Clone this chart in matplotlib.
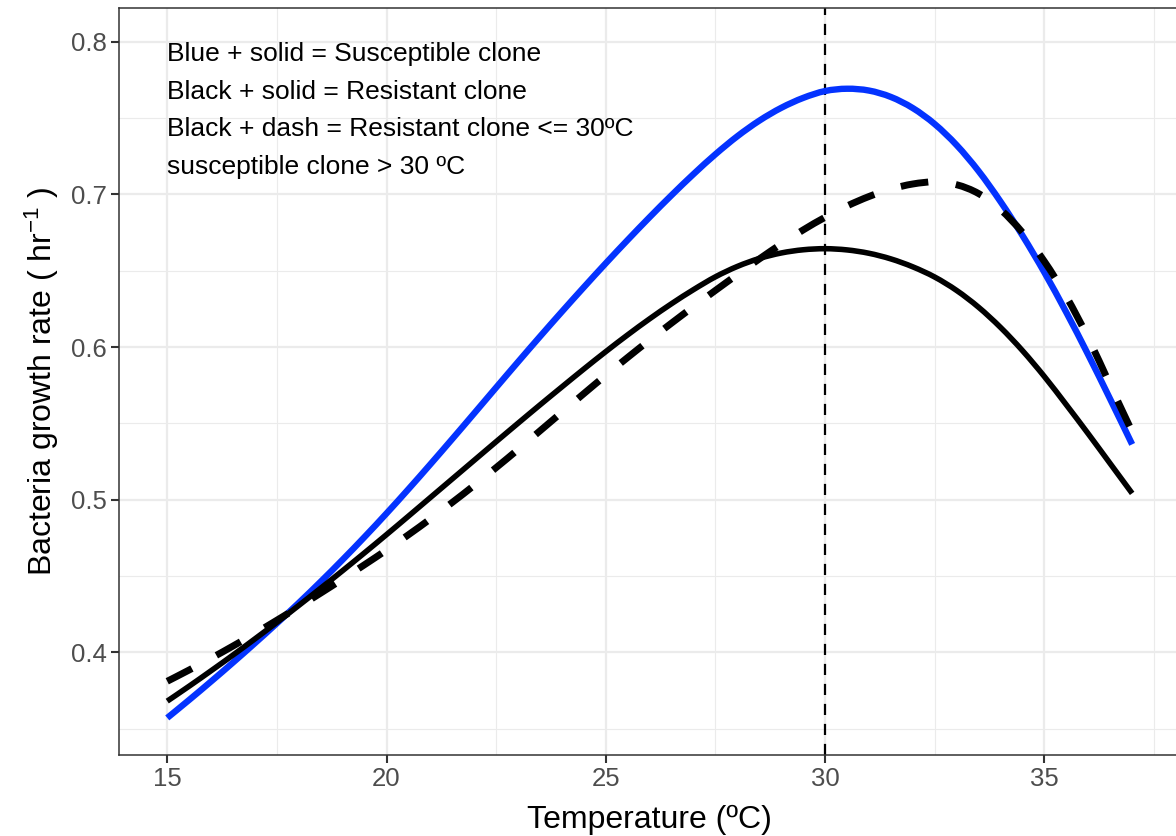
import numpy as np
import matplotlib
matplotlib.use("Agg")
import matplotlib.pyplot as plt
from matplotlib.ticker import FixedLocator
from matplotlib.path import Path
from matplotlib.patches import PathPatch

# Temperature grid (ºC)
temperature = [15.0, 15.5, 16.0, 16.5, 17.0, 17.5, 18.0, 18.5, 19.0, 19.5,
               20.0, 20.5, 21.0, 21.5, 22.0, 22.5, 23.0, 23.5, 24.0, 24.5,
               25.0, 25.5, 26.0, 26.5, 27.0, 27.5, 28.0, 28.5, 29.0, 29.5,
               30.0, 30.5, 31.0, 31.5, 32.0, 32.5, 33.0, 33.5, 34.0, 34.5,
               35.0, 35.5, 36.0, 36.5, 37.0]

# Growth rate of the susceptible clone (hr^-1)
susceptible = [0.3570, 0.3688, 0.3809, 0.3933, 0.4060, 0.4190, 0.4324, 0.4463, 0.4607, 0.4756,
               0.4910, 0.5069, 0.5232, 0.5398, 0.5566, 0.5735, 0.5903, 0.6069, 0.6232, 0.6392,
               0.6549, 0.6702, 0.6851, 0.6995, 0.7133, 0.7263, 0.7381, 0.7483, 0.7567, 0.7632,
               0.7677, 0.7692, 0.7680, 0.7638, 0.7565, 0.7460, 0.7322, 0.7152, 0.6952, 0.6730,
               0.6488, 0.6226, 0.5948, 0.5658, 0.5362]

# Growth rate of the resistant clone (hr^-1)
resistant = [0.3680, 0.3778, 0.3879, 0.3982, 0.4088, 0.4196, 0.4307, 0.4420, 0.4535, 0.4652,
             0.4771, 0.4892, 0.5014, 0.5136, 0.5258, 0.5380, 0.5501, 0.5621, 0.5739, 0.5856,
             0.5970, 0.6080, 0.6185, 0.6284, 0.6376, 0.6460, 0.6528, 0.6580, 0.6616, 0.6637,
             0.6644, 0.6636, 0.6614, 0.6577, 0.6525, 0.6458, 0.6370, 0.6260, 0.6128, 0.5976,
             0.5806, 0.5621, 0.5431, 0.5236, 0.5041]

# Mixed scenario: resistant clone up to 30 ºC, susceptible clone above
mixed = [0.3810, 0.3884, 0.3961, 0.4041, 0.4124, 0.4210, 0.4298, 0.4388, 0.4480, 0.4574,
         0.4670, 0.4770, 0.4874, 0.4982, 0.5094, 0.5210, 0.5329, 0.5451, 0.5573, 0.5695,
         0.5815, 0.5932, 0.6046, 0.6157, 0.6265, 0.6371, 0.6475, 0.6577, 0.6675, 0.6767,
         0.6850, 0.6924, 0.6986, 0.7035, 0.7068, 0.7082, 0.7063, 0.7005, 0.6900, 0.6750,
         0.6560, 0.6330, 0.6058, 0.5750, 0.5445]

threshold = 30

notes = ["Blue + solid = Susceptible clone",
         "Black + solid = Resistant clone",
         "Black + dash = Resistant clone <= 30ºC",
         "susceptible clone > 30 ºC"]
note_y = [0.7874, 0.7627, 0.7380, 0.7133]

x_major = [15, 20, 25, 30, 35]
x_minor = [17.5, 22.5, 27.5, 32.5, 37.5]
y_major = [0.4, 0.5, 0.6, 0.7, 0.8]
y_minor = [0.35, 0.45, 0.55, 0.65, 0.75]


def smooth_path(x, y):
    """Cubic Bezier path passing through every (x, y) point (Catmull-Rom tangents)."""
    pts = np.column_stack([x, y]).astype(float)
    n = len(pts)
    verts = [pts[0]]
    codes = [Path.MOVETO]
    for i in range(n - 1):
        p0 = pts[max(i - 1, 0)]
        p1 = pts[i]
        p2 = pts[i + 1]
        p3 = pts[min(i + 2, n - 1)]
        c1 = p1 + (p2 - p0) / 6.0
        c2 = p2 - (p3 - p1) / 6.0
        verts += [c1, c2, p2]
        codes += [Path.CURVE4] * 3
    return Path(np.array(verts), codes)


plt.rcParams['font.family'] = ['Liberation Sans', 'DejaVu Sans']
plt.rcParams['mathtext.fontset'] = 'custom'
plt.rcParams['mathtext.rm'] = 'Liberation Sans'
plt.rcParams['mathtext.it'] = 'Liberation Sans:italic'

fig = plt.figure(figsize=(11.76, 8.36), dpi=100)
ax = fig.add_axes([119 / 1176, 81 / 836, 1061.4 / 1176, 746.7 / 836])

ax.set_xlim(13.9, 38.1)
ax.set_ylim(0.3327, 0.8219)

ax.xaxis.set_major_locator(FixedLocator(x_major))
ax.xaxis.set_minor_locator(FixedLocator(x_minor))
ax.yaxis.set_major_locator(FixedLocator(y_major))
ax.yaxis.set_minor_locator(FixedLocator(y_minor))
ax.set_xticklabels([str(v) for v in x_major])
ax.set_yticklabels([f"{v:.1f}" for v in y_major])

ax.grid(which='major', color='#EBEBEB', linewidth=1.6)
ax.grid(which='minor', color='#EBEBEB', linewidth=0.8)
ax.set_axisbelow(True)

ax.tick_params(which='major', length=6, width=1.5, color='#333333',
               labelsize=18.5, labelcolor='#4D4D4D', pad=3)
ax.tick_params(which='minor', length=0)
for sp in ax.spines.values():
    sp.set_color('#333333')
    sp.set_linewidth(1.1)
    sp.set_zorder(5)

ax.axvline(threshold, color='black', linewidth=1.6, dashes=(5, 4), zorder=2)

ax.add_patch(PathPatch(smooth_path(temperature, susceptible), fill=False,
                       edgecolor='#0433FF', linewidth=4.6, capstyle='butt', zorder=3))
ax.add_patch(PathPatch(smooth_path(temperature, resistant), fill=False,
                       edgecolor='black', linewidth=4.0, capstyle='butt', zorder=3))
ax.add_patch(PathPatch(smooth_path(temperature, mixed), fill=False,
                       edgecolor='black', linewidth=5.0, linestyle=(0, (4, 4)),
                       capstyle='butt', zorder=3))

for txt, yv in zip(notes, note_y):
    ax.text(15, yv, txt, fontsize=19, color='black', ha='left', va='baseline')

ax.set_xlabel("Temperature (ºC)", fontsize=23)
ax.set_ylabel(r"Bacteria growth rate ( hr$^{-1}$ )", fontsize=23)
ax.xaxis.set_label_coords(0.5, -0.067)
ax.yaxis.set_label_coords(-0.055, 0.5)

fig.savefig("out.png", dpi=100)
